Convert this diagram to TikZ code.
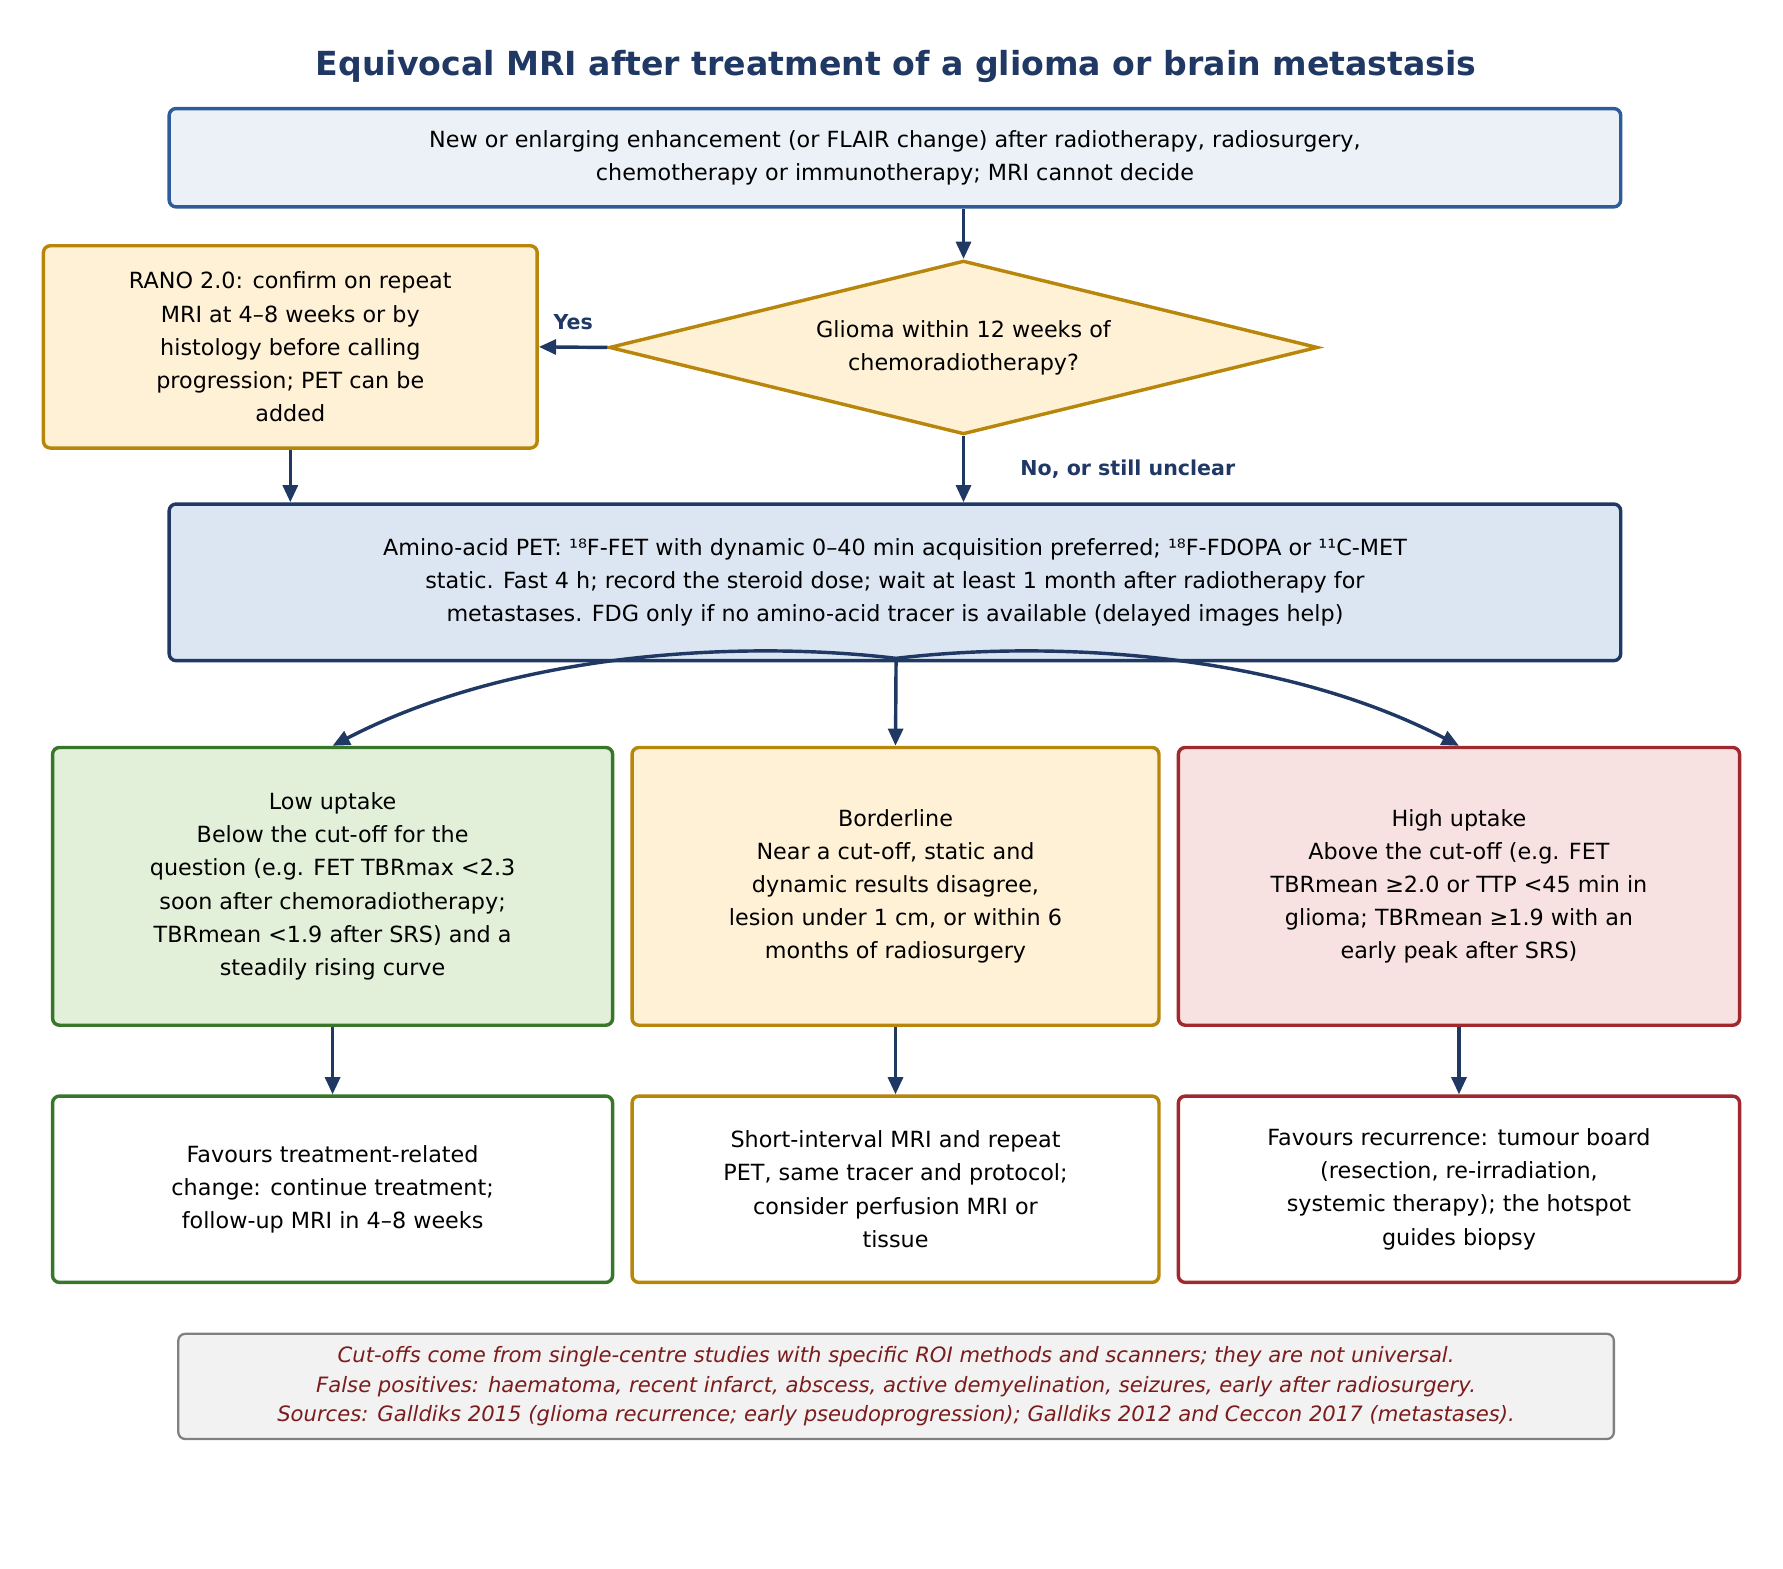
\documentclass[tikz,border=0pt]{standalone}
\usepackage{fontspec}
\setmainfont{DejaVu Sans}
\usetikzlibrary{shapes.geometric,arrows.meta}
\definecolor{navy}{HTML}{1F3864}
\definecolor{topline}{HTML}{2E5C9A}
\definecolor{topfill}{HTML}{ECF1F8}
\definecolor{petfill}{HTML}{DCE6F2}
\definecolor{goldline}{HTML}{B8860B}
\definecolor{goldfill}{HTML}{FFF1D6}
\definecolor{greenline}{HTML}{38762B}
\definecolor{greenfill}{HTML}{E2F0D9}
\definecolor{redline}{HTML}{A0292E}
\definecolor{redfill}{HTML}{F8E1E1}
\definecolor{notered}{HTML}{7B1C1C}
\tikzset{every picture/.style={line width=3pt}}
\tikzset{
  box/.style={draw, rounded corners=6pt, align=center, inner sep=0pt,
    font=\fontsize{19.5}{29}\selectfont},
  flow/.style={draw=navy, line width=3pt, -{Triangle[length=15pt,width=13pt]}},
  lbl/.style={text=navy, font=\fontsize{18}{22}\selectfont\bfseries}
}
\begin{document}
\begin{tikzpicture}[x=1pt,y=1pt,yscale=-1]
\useasboundingbox (0,0) rectangle (1560,1372);
\node[font=\fontsize{29}{34}\selectfont\bfseries, text=navy] (title) at (784,58) {Equivocal MRI after treatment of a glioma or brain metastasis};
\node[box, draw=topline, fill=topfill, minimum width=1270pt, minimum height=86pt] (top) at (783,138)
  {New or enlarging enhancement (or FLAIR change) after radiotherapy, radiosurgery,\\chemotherapy or immunotherapy; MRI cannot decide};
\node[diamond, draw=goldline, fill=goldfill, aspect=4.08, minimum width=620pt, minimum height=152pt, inner sep=0pt, align=center, font=\fontsize{19.5}{29}\selectfont] (q) at (843,304)
  {Glioma within 12 weeks of\\chemoradiotherapy?};
\node[box, draw=goldline, fill=goldfill, minimum width=432pt, minimum height=177pt] (rano) at (254,303.5)
  {RANO 2.0: confirm on repeat\\MRI at 4–8 weeks or by\\histology before calling\\progression; PET can be\\added};
\node[box, draw=navy, fill=petfill, minimum width=1270pt, minimum height=137pt] (pet) at (783,509.5)
  {Amino-acid PET: ¹⁸F-FET with dynamic 0–40 min acquisition preferred; ¹⁸F-FDOPA or ¹¹C-MET\\static. Fast 4 h; record the steroid dose; wait at least 1 month after radiotherapy for\\metastases. FDG only if no amino-acid tracer is available (delayed images help)};
\node[box, draw=greenline, fill=greenfill, minimum width=490pt, minimum height=243pt] (low) at (291,775.5)
  {Low uptake\\Below the cut-off for the\\question (e.g. FET TBRmax <2.3\\soon after chemoradiotherapy;\\TBRmean <1.9 after SRS) and a\\steadily rising curve};
\node[box, draw=goldline, fill=goldfill, minimum width=461pt, minimum height=243pt] (mid) at (783.5,775.5)
  {Borderline\\Near a cut-off, static and\\dynamic results disagree,\\lesion under 1 cm, or within 6\\months of radiosurgery};
\node[box, draw=redline, fill=redfill, minimum width=491pt, minimum height=243pt] (high) at (1276.5,775.5)
  {High uptake\\Above the cut-off (e.g. FET\\TBRmean ≥2.0 or TTP <45 min in\\glioma; TBRmean ≥1.9 with an\\early peak after SRS)};
\node[box, draw=greenline, fill=white, minimum width=490pt, minimum height=163pt] (lowact) at (291,1040.5)
  {Favours treatment-related\\change: continue treatment;\\follow-up MRI in 4–8 weeks};
\node[box, draw=goldline, fill=white, minimum width=461pt, minimum height=163pt] (midact) at (783.5,1040.5)
  {Short-interval MRI and repeat\\PET, same tracer and protocol;\\consider perfusion MRI or\\tissue};
\node[box, draw=redline, fill=white, minimum width=491pt, minimum height=163pt] (highact) at (1276.5,1040.5)
  {Favours recurrence: tumour board\\(resection, re-irradiation,\\systemic therapy); the hotspot\\guides biopsy};
\node[box, draw=gray, fill=black!5, line width=2pt, minimum width=1256pt, minimum height=92pt, text=notered, font=\fontsize{18.5}{26}\selectfont\itshape] (note) at (784,1213)
  {Cut-offs come from single-centre studies with specific ROI methods and scanners; they are not universal.\\False positives: haematoma, recent infarct, abscess, active demyelination, seizures, early after radiosurgery.\\Sources: Galldiks 2015 (glioma recurrence; early pseudoprogression); Galldiks 2012 and Ceccon 2017 (metastases).};
% connectors
\coordinate (split) at (784,576);
\draw[flow] (top.south -| q.north) -- (q.north);
\draw[flow] (q.west) -- (rano.east) node[lbl, midway, above=10pt] {Yes};
\draw[flow] (q.south) -- (pet.north -| q.south) node[lbl, midway, right=45pt] {No, or still unclear};
\draw[flow] (rano.south) -- (rano.south |- pet.north);
\draw[flow] (split) -- (mid.north);
\draw[flow] (split) .. controls (650,560) and (450,570) .. (low.north);
\draw[flow] (split) .. controls (918,560) and (1118,570) .. (high.north);
\draw[flow] (low.south) -- (lowact.north);
\draw[flow] (mid.south) -- (midact.north);
\draw[flow] (high.south) -- (highact.north);
\end{tikzpicture}
\end{document}
